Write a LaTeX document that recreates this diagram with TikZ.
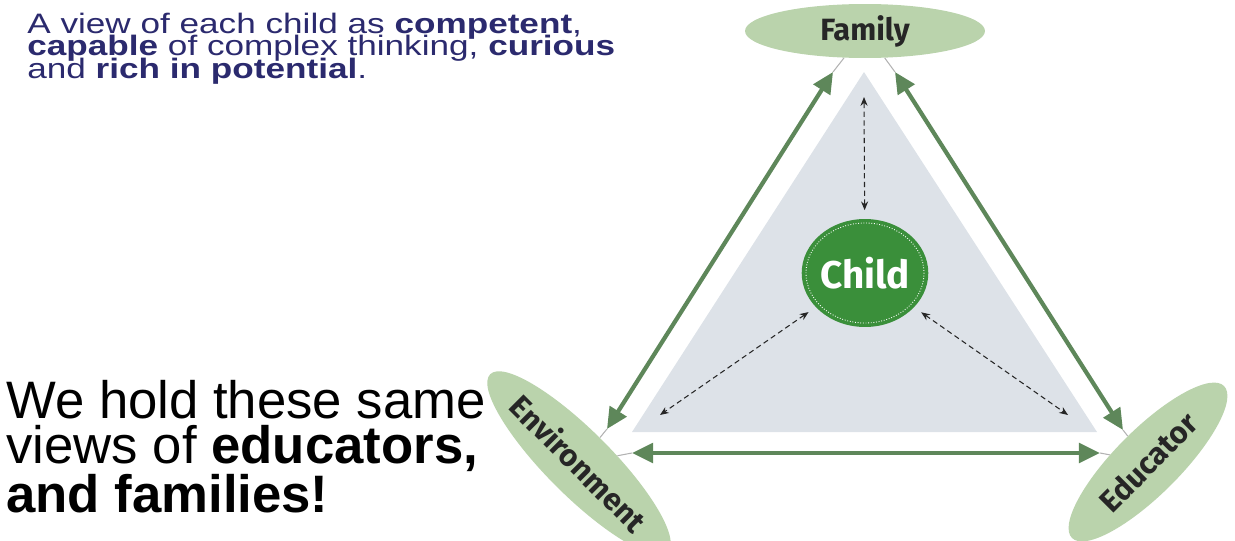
\documentclass[tikz,border=0pt]{standalone}
\usepackage{fontspec}
\setmainfont{Liberation Sans}
\newfontfamily\labelfont{Fira Sans}
\newfontfamily\widefont{Liberation Sans}[FakeStretch=1.25]
\newcommand\viewfont{\widefont\fontsize{16}{12.8}\selectfont\setlength{\lineskiplimit}{-20pt}}
\usetikzlibrary{arrows.meta,shapes.geometric}
\definecolor{leaf}{RGB}{186,211,172}
\definecolor{moss}{RGB}{94,135,90}
\definecolor{mist}{RGB}{221,226,232}
\definecolor{childgreen}{RGB}{58,143,58}
\definecolor{navy}{RGB}{43,42,110}

\begin{document}
\begin{tikzpicture}[x=0.02cm, y=-0.02cm,
  party/.style={ellipse, fill=leaf, inner sep=0pt, text=black!85,
    font=\labelfont\bfseries\fontsize{17.5}{17.5}\selectfont},
  link/.style={moss, line width=2.4pt,
    {Triangle[length=12pt,width=11pt]}-{Triangle[length=12pt,width=11pt]}},
  tie/.style={gray!60, line width=0.6pt},
  bond/.style={black!85, line width=0.6pt, dash pattern=on 3pt off 2pt,
    {Stealth[length=5pt,width=4pt]}-{Stealth[length=5pt,width=4pt]}}]
  \useasboundingbox (0,0) rectangle (1235,541);
  \fill[mist] (864,72) -- (1097,432) -- (632,432) -- cycle;
  \node[party, minimum width=4.8cm, minimum height=1.08cm] (fam) at (865,31) {Family};
  \node[party, minimum width=4.4cm, minimum height=1.3cm, rotate=-45] (env) at (579,463) {Environment};
  \node[party, minimum width=4.3cm, minimum height=1.3cm, rotate=45] (edu) at (1148,462) {Educator};
  \node[ellipse, fill=childgreen, minimum width=2.5cm, minimum height=2.16cm, inner sep=0pt,
    outer sep=5pt, text=white, font=\labelfont\bfseries\fontsize{22}{22}\selectfont] (child) at (865,273) {Child};
  \draw[white, densely dotted, line width=0.5pt] (child.center) ellipse [x radius=59, y radius=50];
  \coordinate (famL) at (833,72);
  \coordinate (famR) at (895,72);
  \coordinate (envT) at (607,429);
  \coordinate (eduT) at (1123,430);
  \coordinate (envB) at (632,453);
  \coordinate (eduB) at (1100,453);
  \draw[link] (famL) -- (envT);
  \draw[link] (famR) -- (eduT);
  \draw[link] (envB) -- (eduB);
  \draw[tie] (famL) -- (fam);
  \draw[tie] (famR) -- (fam);
  \draw[tie] (envT) -- (env);
  \draw[tie] (envB) -- (env);
  \draw[tie] (eduT) -- (edu);
  \draw[tie] (eduB) -- (edu);
  \coordinate (up) at (864,97);
  \coordinate (lo) at (660,415);
  \coordinate (ro) at (1068,415);
  \draw[bond] (child) -- (up);
  \draw[bond] (child) -- (lo);
  \draw[bond] (child) -- (ro);
  \node[anchor=base west, align=left, inner sep=0pt, text=navy, font=\viewfont] (view) at (27,78)
    {A view of each child as \textbf{competent},\\
     \textbf{capable} of complex thinking, \textbf{curious}\\
     and \textbf{rich in potential}.};
  \node[anchor=base west, align=left, inner sep=0pt,
    font=\fontsize{30}{26}\selectfont] (same) at (6,512)
    {We hold these same\\views of \textbf{educators,}\\\textbf{and families!}};
\end{tikzpicture}
\end{document}
